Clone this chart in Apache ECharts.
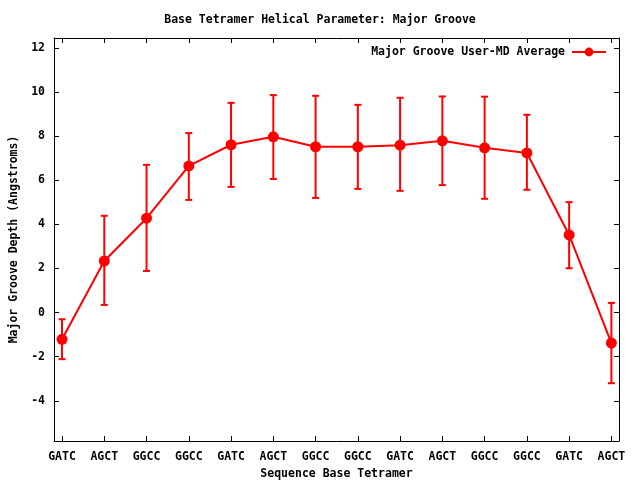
<!DOCTYPE html>
<html>
<head>
<meta charset="utf-8">
<script src="https://cdn.jsdelivr.net/npm/echarts@6/dist/echarts.min.js"></script>
<style>html,body{margin:0;padding:0;background:#fff}#c{width:640px;height:480px}</style>
</head>
<body>
<div id="c"></div>
<script>
var categories = ["GATC","AGCT","GGCC","GGCC","GATC","AGCT","GGCC","GGCC","GATC","AGCT","GGCC","GGCC","GATC","AGCT"];
var averages = [-1.21, 2.34, 4.28, 6.65, 7.61, 7.97, 7.52, 7.52, 7.59, 7.79, 7.47, 7.24, 3.52, -1.38];
var errLow  = [-2.11, 0.35, 1.89, 5.11, 5.70, 6.06, 5.20, 5.61, 5.52, 5.78, 5.16, 5.57, 2.01, -3.20];
var errHigh = [-0.30, 4.39, 6.70, 8.14, 9.51, 9.86, 9.83, 9.42, 9.74, 9.80, 9.79, 8.97, 5.01, 0.44];
var yTicks = [-4, -2, 0, 2, 4, 6, 8, 10, 12];
var xTicks = [0,1,2,3,4,5,6,7,8,9,10,11,12,13];

var FONT = "'DejaVu Sans Mono', monospace";
var RED = '#ff0000';
var chart = echarts.init(document.getElementById('c'), null, {renderer: 'canvas'});

var lineData = averages.map(function (v, i) { return [i, v]; });
var errData = averages.map(function (v, i) { return [i, errLow[i], errHigh[i]]; });

var xMin = -0.19, xMax = 13.18, yMin = -5.82, yMax = 12.45;

var option = {
  backgroundColor: '#fff',
  animation: false,
  title: {
    text: 'Base Tetramer Helical Parameter: Major Groove',
    left: 'center', top: 9,
    textStyle: {fontFamily: FONT, fontSize: 11.5, fontWeight: 'bold', color: '#000'}
  },
  legend: {
    right: 28, top: 41,
    align: 'right',
    itemWidth: 34, itemHeight: 11, itemGap: 6,
    data: ['Major Groove User-MD Average'],
    textStyle: {fontFamily: FONT, fontSize: 11.5, fontWeight: 'bold', color: '#000', padding: [0, 2, 0, 0]}
  },
  grid: {left: 54, right: 21, top: 38, bottom: 39, containLabel: false, outerBoundsMode: 'none'},
  xAxis: [{
    type: 'value', min: xMin, max: xMax,
    name: 'Sequence Base Tetramer', nameLocation: 'middle', nameGap: 27,
    nameTextStyle: {fontFamily: FONT, fontSize: 11.5, fontWeight: 'bold', color: '#000'},
    axisLine: {show: true, onZero: false, lineStyle: {color: '#000', width: 1}},
    axisTick: {show: true, inside: true, length: 5, customValues: xTicks, lineStyle: {color: '#000'}},
    axisLabel: {show: true, customValues: xTicks, margin: 10, fontFamily: FONT, fontSize: 11.5, fontWeight: 'bold', color: '#000',
      formatter: function (v) { return categories[Math.round(v)]; }},
    splitLine: {show: false}
  }, {
    type: 'value', min: xMin, max: xMax, position: 'top',
    axisLine: {show: true, onZero: false, lineStyle: {color: '#000', width: 1}},
    axisTick: {show: true, inside: true, length: 5, customValues: xTicks, lineStyle: {color: '#000'}},
    axisLabel: {show: false},
    splitLine: {show: false}
  }],
  yAxis: [{
    type: 'value', min: yMin, max: yMax,
    name: 'Major Groove Depth (Angstroms)', nameLocation: 'middle', nameGap: 33,
    nameTextStyle: {fontFamily: FONT, fontSize: 11.5, fontWeight: 'bold', color: '#000'},
    axisLine: {show: true, onZero: false, lineStyle: {color: '#000', width: 1}},
    axisTick: {show: true, inside: true, length: 5, customValues: yTicks, lineStyle: {color: '#000'}},
    axisLabel: {show: true, customValues: yTicks, margin: 9, fontFamily: FONT, fontSize: 11.5, fontWeight: 'bold', color: '#000'},
    splitLine: {show: false}
  }, {
    type: 'value', min: yMin, max: yMax, position: 'right',
    axisLine: {show: true, onZero: false, lineStyle: {color: '#000', width: 1}},
    axisTick: {show: true, inside: true, length: 5, customValues: yTicks, lineStyle: {color: '#000'}},
    axisLabel: {show: false},
    splitLine: {show: false}
  }],
  series: [{
    type: 'custom',
    name: 'errors',
    xAxisIndex: 0, yAxisIndex: 0,
    data: errData,
    z: 2,
    renderItem: function (params, api) {
      var x = api.value(0);
      var lo = api.coord([x, api.value(1)]);
      var hi = api.coord([x, api.value(2)]);
      var hw = 3.5;
      var style = {stroke: RED, lineWidth: 2};
      return {
        type: 'group',
        children: [
          {type: 'line', shape: {x1: lo[0], y1: lo[1], x2: hi[0], y2: hi[1]}, style: style},
          {type: 'line', shape: {x1: lo[0] - hw, y1: lo[1], x2: lo[0] + hw, y2: lo[1]}, style: style},
          {type: 'line', shape: {x1: hi[0] - hw, y1: hi[1], x2: hi[0] + hw, y2: hi[1]}, style: style}
        ]
      };
    }
  }, {
    type: 'line',
    name: 'Major Groove User-MD Average',
    xAxisIndex: 0, yAxisIndex: 0,
    data: lineData,
    symbol: 'circle', symbolSize: 11,
    z: 3,
    lineStyle: {color: RED, width: 2},
    itemStyle: {color: RED}
  }]
};
chart.setOption(option);
</script>
</body>
</html>
